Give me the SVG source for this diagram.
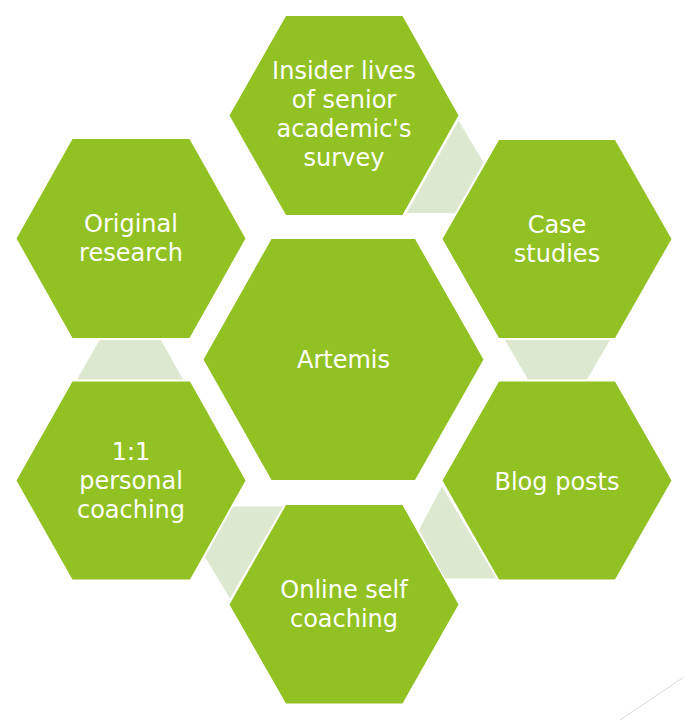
<svg xmlns="http://www.w3.org/2000/svg" width="684" height="720" viewBox="0 0 684 720">
<style>
.hex{fill:#92C123;}
.link{fill:#DCE8D0;}
.lbl{font-family:"DejaVu Sans","Liberation Sans",sans-serif;font-size:24px;fill:#FFFFFF;text-anchor:middle;}
</style>
<rect width="684" height="720" fill="#FFFFFF"/>
<g id="connectors">
<polygon class="link" points="458.5,120.5 483.5,162.5 455,213 406.5,213"/>
<polygon class="link" points="505,340 610,340 587,379.5 528,379.5"/>
<polygon class="link" points="442,486.5 496.5,578.5 445,578.5 419,530"/>
<polygon class="link" points="233,506.5 283,506.5 230,598.5 205,557"/>
<polygon class="link" points="99.5,340 161,340 183,379.5 77,379.5"/>
</g>
<g id="artemis">
<polygon class="hex" points="203.5,359.5 271.5,239 415,239 483.5,359.5 415,480 271.5,480"/>
<text class="lbl" x="343.5" y="367.5">Artemis</text>
</g>
<g id="insider">
<polygon class="hex" points="229.5,115.5 286,16 402.5,16 458.5,115.5 402.5,215 286,215"/>
<text class="lbl" x="344" y="79">Insider lives</text>
<text class="lbl" x="344" y="108">of senior</text>
<text class="lbl" x="344" y="137">academic's</text>
<text class="lbl" x="344" y="166">survey</text>
</g>
<g id="case-studies">
<polygon class="hex" points="442.5,239 499,140 615,140 671.5,239 615,338 499,338"/>
<text class="lbl" x="557" y="232.5">Case</text>
<text class="lbl" x="557" y="261.5">studies</text>
</g>
<g id="original-research">
<polygon class="hex" points="16.5,238.5 72.5,139 189.5,139 245.5,238.5 189.5,338 72.5,338"/>
<text class="lbl" x="131" y="231.5">Original</text>
<text class="lbl" x="131" y="260.5">research</text>
</g>
<g id="blog-posts">
<polygon class="hex" points="442.5,480.5 499,381.5 615,381.5 671.5,480.5 615,579.5 499,579.5"/>
<text class="lbl" x="557" y="489.5">Blog posts</text>
</g>
<g id="personal-coaching">
<polygon class="hex" points="16.5,480.5 72.5,381.5 190,381.5 245.5,480.5 190,579.5 72.5,579.5"/>
<text class="lbl" x="131" y="459.5">1:1</text>
<text class="lbl" x="131" y="488.5">personal</text>
<text class="lbl" x="131" y="517.5">coaching</text>
</g>
<g id="online-self-coaching">
<polygon class="hex" points="229.5,604.5 286,505 402.5,505 458.5,604.5 402.5,703.5 286,703.5"/>
<text class="lbl" x="344" y="597.5">Online self</text>
<text class="lbl" x="344" y="626.5">coaching</text>
</g>
<line x1="620" y1="720" x2="684" y2="677" stroke="#D9D9D9" stroke-width="1"/>
</svg>
